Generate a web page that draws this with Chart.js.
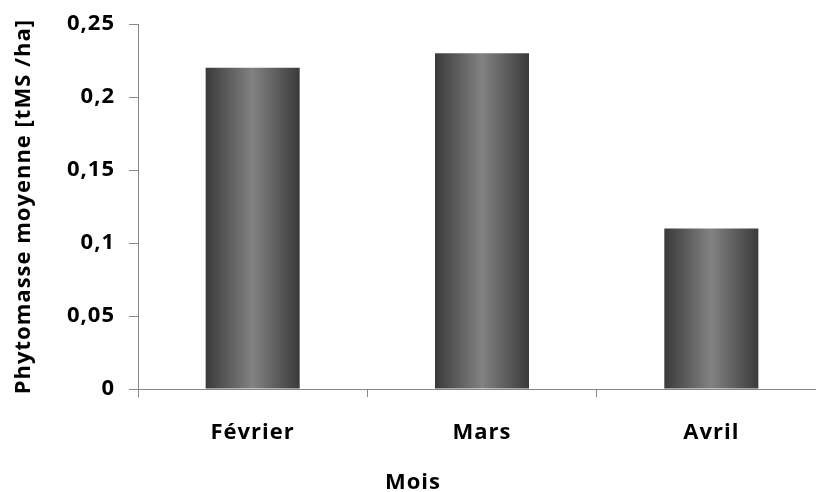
<!DOCTYPE html>
<html>
<head>
<meta charset="utf-8">
<script src="https://cdn.jsdelivr.net/npm/chart.js@4/dist/chart.umd.min.js"></script>
<style>
  body { margin: 0; overflow: hidden; background: #fff; }
</style>
</head>
<body>
<canvas id="phytoChart" width="830" height="492"></canvas>
<script>
// Phytomasse moyenne par mois (Bar Chart)
const months = ['Février', 'Mars', 'Avril'];
const phytomasse = [0.22, 0.23, 0.11]; // tMS/ha
const yTickLabels = ['0', '0,05', '0,1', '0,15', '0,2', '0,25'];

const barPct = 0.41;
const axisColor = '#888888';
const labelFont = { family: 'Open Sans', weight: 'bold', size: 22 };

// horizontal dark-light-dark shading for each bar
function barGradient(ctx) {
    const chart = ctx.chart;
    const xs = chart.scales.x;
    if (!xs || ctx.type !== 'data') return '#5a5a5a';
    const cx = xs.getPixelForValue(ctx.dataIndex);
    const half = (xs.width / months.length) * barPct / 2;
    if (!isFinite(cx) || !isFinite(half) || half <= 0) return '#5a5a5a';
    const g = chart.ctx.createLinearGradient(cx - half, 0, cx + half, 0);
    g.addColorStop(0, '#3a3a3a');
    g.addColorStop(0.5, '#828282');
    g.addColorStop(1, '#3a3a3a');
    return g;
}

// the original text is loosely spaced (canvas resize resets it, so set it late)
const letterSpacing = {
    id: 'letterSpacing',
    beforeLayout(chart) { chart.ctx.letterSpacing = '1px'; },
    beforeDraw(chart) { chart.ctx.letterSpacing = '1px'; }
};

const phytoCtx = document.getElementById('phytoChart').getContext('2d');
const phytoChart = new Chart(phytoCtx, {
    type: 'bar',
    data: {
        labels: months,
        datasets: [{
            label: 'Phytomasse moyenne',
            data: phytomasse,
            backgroundColor: barGradient,
            borderWidth: 0,
            barPercentage: barPct,
            categoryPercentage: 1
        }]
    },
    plugins: [letterSpacing],
    options: {
        responsive: false,
        animation: false,
        layout: { padding: { top: 24, right: 4, left: 0, bottom: 0 } },
        scales: {
            x: {
                border: { display: true, color: axisColor, width: 1 },
                grid: { drawOnChartArea: false, drawTicks: true, tickLength: 8, color: axisColor, offset: true },
                ticks: { color: '#000', font: labelFont, padding: 22, maxRotation: 0 },
                afterFit: (scale) => { scale.height = 66.5; }
            },
            y: {
                min: 0,
                max: 0.25,
                border: { display: true, color: axisColor, width: 1 },
                grid: { drawOnChartArea: false, drawTicks: true, tickLength: 9, color: axisColor },
                ticks: {
                    stepSize: 0.05,
                    color: '#000',
                    font: labelFont,
                    padding: 14,
                    callback: (value, index) => yTickLabels[index]
                },
                title: {
                    display: true,
                    text: 'Phytomasse moyenne [tMS /ha]',
                    color: '#000',
                    font: labelFont,
                    padding: { top: 11, bottom: 0 }
                },
                afterFit: (scale) => {
                    scale.width = 138;
                    scale.paddingTop = 0;
                    scale.paddingBottom = 0;
                }
            }
        },
        plugins: {
            legend: { display: false },
            tooltip: { enabled: false },
            title: {
                display: true,
                position: 'bottom',
                text: 'Mois',
                color: '#000',
                font: labelFont,
                padding: { top: 14, bottom: -4 }
            }
        }
    }
});
</script>
</body>
</html>
